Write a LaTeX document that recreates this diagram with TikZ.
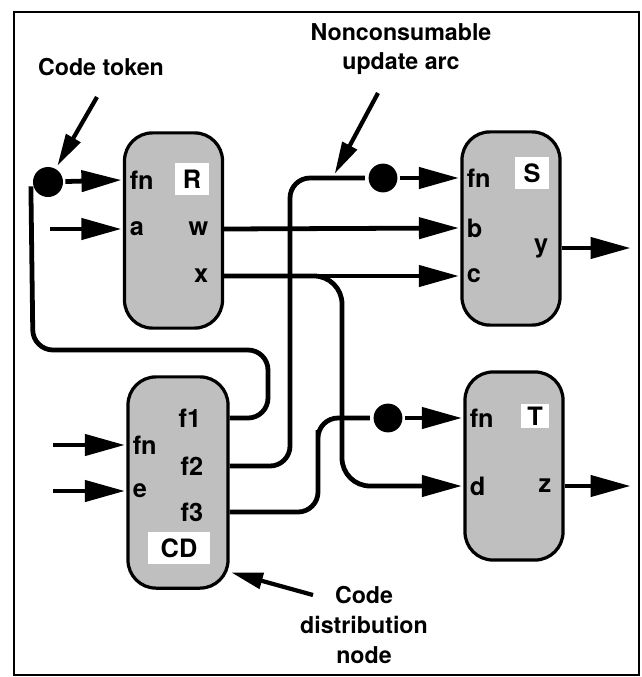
\documentclass[tikz,border=0pt]{standalone}
\usepackage{fontspec}
\setsansfont{TeX Gyre Heros}
\usetikzlibrary{arrows.meta}
\usetikzlibrary{positioning}

\begin{document}
\begin{tikzpicture}[x=0.025cm,y=-0.025cm,>={Triangle[length=1cm,width=0.52cm]},shorten >=1pt,line width=3.4pt,
	every node/.style={font=\sffamily\bfseries\fontsize{16.5}{21}\selectfont}]
	\useasboundingbox (0,0) rectangle (641,677);
	\draw[line width=1.6pt] (14,12) rectangle (639,675);
	\tikzset{box/.style={draw,rectangle,rounded corners=0.7cm,line width=2.3pt,fill=black!25,minimum width=2.45cm}}
	\tikzset{port/.style={inner sep=1pt,font=\sffamily\bfseries\fontsize{18}{21}\selectfont}}
	\tikzset{namebox/.style={fill=white,inner sep=0pt,minimum width=0.85cm,minimum height=0.78cm,font=\sffamily\bfseries\fontsize{18}{21}\selectfont}}
	\tikzset{token/.style={circle,fill=black,inner sep=0pt,minimum size=0.72cm}}
	\tikzset{wire/.style={-,rounded corners=0.5cm}}
	\tikzset{note/.style={->,>={Triangle[length=0.8cm,width=0.4cm]},line width=3pt}}
	% operators
	\node[box,minimum height=4.88cm] (R) at (173.5,230.5) {};
	\node[box,minimum height=4.83cm] (S) at (511,228.5) {};
	\node[box,minimum height=4.7cm] (T) at (514,466) {};
	\node[box,minimum width=2.5cm,minimum height=5.28cm] (CD) at (178,482.5) {};
	\node[namebox] (Rname) at (192,179) {R};
	\node[namebox] (Sname) at (532,173) {S};
	\node[namebox,minimum width=0.7cm,minimum height=0.6cm] (Tname) at (535,416) {T};
	\node[namebox,minimum width=1.55cm] (CDname) at (179,548) {CD};
	% ports
	\node[port,anchor=west] (Rfn) at (126,180) {fn};
	\node[port,anchor=west] (Ra)  at (126,229) {a};
	\node[port,anchor=east] (Rw)  at (212,229) {w};
	\node[port,anchor=east] (Rx)  at (212,276) {x};
	\node[port,anchor=west] (Sfn) at (463,178) {fn};
	\node[port,anchor=west] (Sb)  at (463,228) {b};
	\node[port,anchor=west] (Sc)  at (463,276) {c};
	\node[port,anchor=east] (Sy)  at (552,248) {y};
	\node[port,anchor=west] (Tfn) at (466,418) {fn};
	\node[port,anchor=west] (Td)  at (466,486) {d};
	\node[port,anchor=east] (Tz)  at (555,486) {z};
	\node[port,anchor=west] (CDfn) at (129,445) {fn};
	\node[port,anchor=west] (CDe)  at (129,491) {e};
	\node[port,anchor=east] (CDf1) at (205,418) {f1};
	\node[port,anchor=east] (CDf2) at (207,466) {f2};
	\node[port,anchor=east] (CDf3) at (207,512) {f3};
	% code tokens
	\node[token,minimum size=0.75cm] (tokR) at (48,182) {};
	\node[token] (tokS) at (383,178) {};
	\node[token] (tokT) at (388,418) {};
	% free ends
	\coordinate (inRa)  at (50,229);
	\coordinate (inCDfn) at (53,445);
	\coordinate (inCDe) at (53,491);
	\coordinate (outSy) at (632,248);
	\coordinate (outTz) at (632,486);
	% code distribution
	\draw[wire] (CD.east |- CDf1) -| (268,350) -- (33,350) -- (tokR.190);
	\draw[wire] (CD.east |- CDf2) -| (290,300) |- (tokS);
	\draw[wire] (CD.east |- CDf3) -| (318,450) |- (tokT);
	% data arcs
	\draw[->,rounded corners=0.7cm] (R.east |- Rx) -| (342,400) |- (T.west |- Td);
	\path[->]
	(tokR)           edge (R.west |- Rfn)
	(inRa)           edge (R.west |- Ra)
	(R.east |- Rw)   edge (S.west |- Sb)
	(R.east |- Rx)   edge (S.west |- Sc)
	(tokS)           edge (S.west |- Sfn)
	(tokT)           edge (T.west |- Tfn)
	(inCDfn)         edge (CD.west |- CDfn)
	(inCDe)          edge (CD.west |- CDe)
	(S.east |- Sy)   edge (outSy)
	(T.east |- Tz)   edge (outTz);
	% annotations
	\node (tokText) at (101,67) {Code token};
	\node[align=center] (arcText) at (401,49) {Nonconsumable\\update arc};
	\node[align=center] (cdText) at (364,625) {Code\\distribution\\node};
	\coordinate (tokTail) at (97,97);
	\coordinate (arcTail) at (378,93);
	\coordinate (arcPt) at (334,175);
	\coordinate (cdTail) at (313,595);
	\draw[note] (tokTail) -- (tokR.60);
	\draw[note] (arcTail) -- (arcPt);
	\draw[note] (cdTail) -- (CD.-60);
\end{tikzpicture}
\end{document}
